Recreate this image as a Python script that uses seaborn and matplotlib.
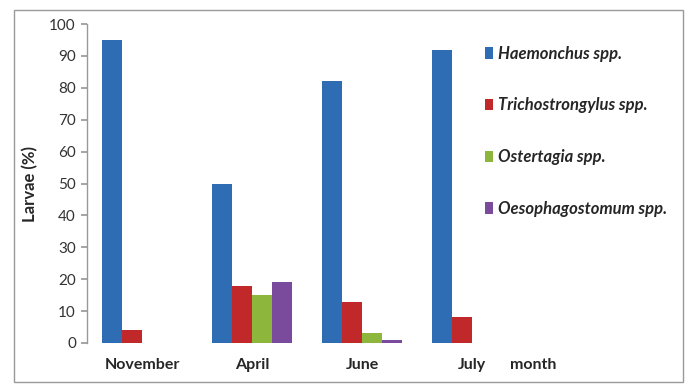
import pandas as pd
import matplotlib
matplotlib.use("Agg")
import matplotlib.pyplot as plt
import seaborn as sns
from matplotlib.patches import Rectangle

# --- dados ---
meses = ["November", "April", "June", "July"]
especies = ["Haemonchus spp.", "Trichostrongylus spp.", "Ostertagia spp.", "Oesophagostomum spp."]
haemonchus = [95, 50, 82, 92]
trichostrongylus = [4, 18, 13, 8]
ostertagia = [0, 15, 3, 0]
oesophagostomum = [0, 19, 1, 0]
cores = ["#2E6DB4", "#C0282A", "#8DB63C", "#7A4A9C"]
yticks = list(range(0, 101, 10))

df = pd.DataFrame({
    "mes": meses * 4,
    "especie": [e for e in especies for _ in meses],
    "valor": haemonchus + trichostrongylus + ostertagia + oesophagostomum,
})

sns.set_theme(style="white")
plt.rcParams["font.family"] = ["Lato", "DejaVu Sans"]

fig = plt.figure(figsize=(6.91, 3.88), dpi=100)
ax = fig.add_axes([87 / 691, 1 - 343 / 388, 440 / 691, 319 / 388])

sns.barplot(data=df, x="mes", y="valor", hue="especie", order=meses,
            hue_order=especies, palette=cores, width=80 / 110, saturation=1,
            linewidth=0, ax=ax)

ax.set_xlim(-0.5, 3.5)
ax.set_ylim(0, 100)
ax.set_yticks(yticks)
ax.set_yticklabels([str(t) for t in yticks], fontsize=11, color="#333333")
ax.set_xticks(range(len(meses)))
ax.set_xticklabels(meses, fontsize=11.5, fontweight="bold")
ax.tick_params(axis="y", which="both", left=True, length=4, color="#999999", pad=4)
ax.tick_params(axis="x", length=0, pad=11)
ax.set_xlabel("")
ax.set_ylabel("Larvae (%)", fontsize=12, fontweight="bold", labelpad=8)

for lado in ["top", "right", "bottom"]:
    ax.spines[lado].set_visible(False)
ax.spines["left"].set_color("#999999")
ax.spines["left"].set_linewidth(1)

fig.text(510 / 691, 1 - 365 / 388, "month", fontsize=11.5, fontweight="bold",
         va="center", ha="left")

leg = ax.legend(loc="upper left", bbox_to_anchor=(391 / 440, 1 - 15 / 319),
                frameon=False, handlelength=0.5, handleheight=0.7,
                handletextpad=0.3, labelspacing=2.15, borderaxespad=0,
                prop={"size": 12, "style": "italic", "weight": "bold"})

# moldura da figura
fig.patches.append(Rectangle((14 / 691, 1 - 382 / 388), 669 / 691, 372 / 388,
                             transform=fig.transFigure, fill=False,
                             edgecolor="#999999", linewidth=1))

plt.savefig("out.png", dpi=100)
